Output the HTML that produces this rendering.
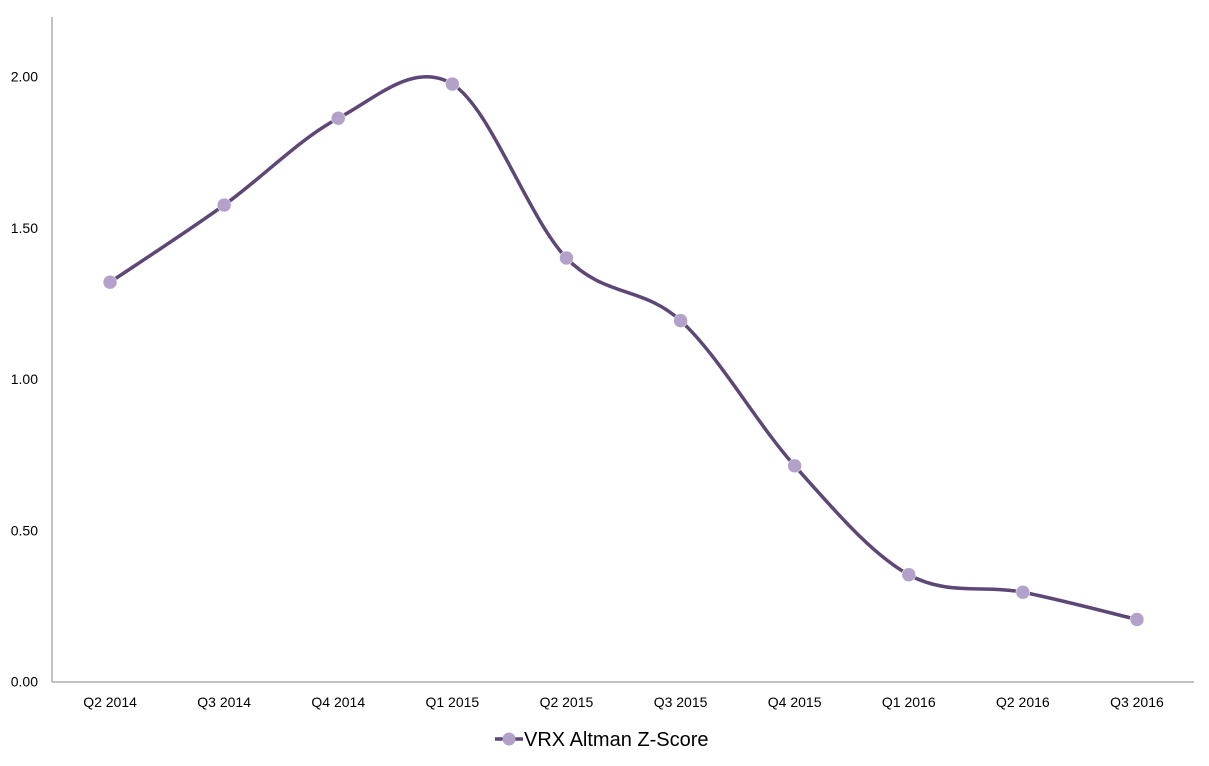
<!DOCTYPE html>
<html><head><meta charset="utf-8"><style>
body{margin:0;background:#fff;}
svg{display:block;font-family:"Liberation Sans",Calibri,sans-serif;}
</style></head><body>
<svg id="chart" width="1209" height="766">
<line x1="52" y1="17" x2="52" y2="682" stroke="#868686" stroke-width="1"/>
<line x1="52" y1="682" x2="1194" y2="682" stroke="#868686" stroke-width="1"/>
<g id="yt"></g><g id="xt"></g>
<path id="line" fill="none" stroke="#5c4777" stroke-width="3.5"/>
<g id="pts"></g>
<g>
<line x1="495" y1="739" x2="523" y2="739" stroke="#5c4777" stroke-width="3.5"/>
<circle cx="509" cy="739" r="6.5" fill="#b2a1c8"/>
<text x="524" y="746" font-size="20" fill="#000">VRX Altman Z-Score</text>
</g>
</svg>
<script>
const categories=["Q2 2014","Q3 2014","Q4 2014","Q1 2015","Q2 2015","Q3 2015","Q4 2015","Q1 2016","Q2 2016","Q3 2016"];
const values=[1.32,1.575,1.862,1.975,1.40,1.193,0.713,0.353,0.295,0.205];
const yTicks=[0,0.5,1.0,1.5,2.0];
const ns="http://www.w3.org/2000/svg";
const y0=681.5,yScale=302.5,xL=53,xR=1194;
function yPos(v){return y0-v*yScale;}
function xPos(i){const w=(xR-xL)/categories.length;return xL+w*(i+0.5);}
const yt=document.getElementById('yt');
yTicks.forEach(t=>{const e=document.createElementNS(ns,'text');


e.setAttribute('x',38);e.setAttribute('y',yPos(t)+5);e.setAttribute('text-anchor','end');e.setAttribute('font-size','14');e.textContent=t.toFixed(2);yt.appendChild(e);});
const xt=document.getElementById('xt');
categories.forEach((c,i)=>{const e=document.createElementNS(ns,'text');


e.setAttribute('x',xPos(i));e.setAttribute('y',707);e.setAttribute('text-anchor','middle');e.setAttribute('font-size','14');e.textContent=c;xt.appendChild(e);});
const P=values.map((v,i)=>[xPos(i),yPos(v)]);
let d='M'+P[0][0]+','+P[0][1];const k=1/6;
for(let i=0;i<P.length-1;i++){const p0=P[Math.max(0,i-1)],p1=P[i],p2=P[i+1],p3=P[Math.min(P.length-1,i+2)];
const c1=[p1[0]+(p2[0]-p0[0])*k,p1[1]+(p2[1]-p0[1])*k],c2=[p2[0]-(p3[0]-p1[0])*k,p2[1]-(p3[1]-p1[1])*k];
d+=' C'+c1+' '+c2+' '+p2;}
document.getElementById('line').setAttribute('d',d);
const pts=document.getElementById('pts');
P.forEach((p,i)=>{const c=document.createElementNS(ns,'circle');


c.setAttribute('cx',p[0]);c.setAttribute('cy',p[1]);c.setAttribute('r',7);c.setAttribute('fill','#b2a1c8');c.setAttribute('stroke','#fff');c.setAttribute('stroke-width','0.5');pts.appendChild(c);});
</script>
</body></html>
